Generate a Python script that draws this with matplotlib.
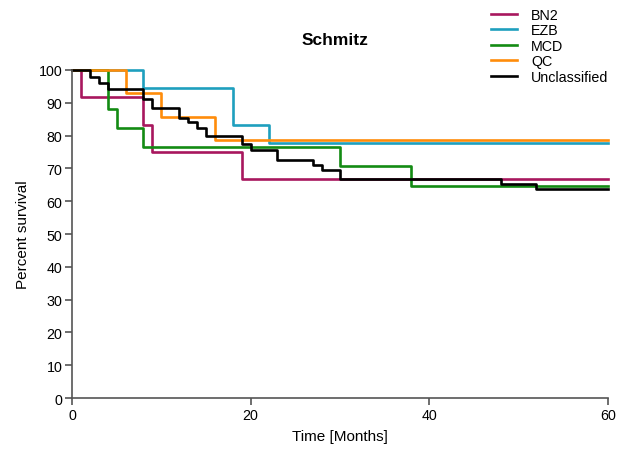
import matplotlib
matplotlib.use("Agg")
import matplotlib.pyplot as plt

plt.rcParams['font.family'] = ['Liberation Sans', 'DejaVu Sans']

title = "Schmitz"
series_names = ["BN2", "EZB", "MCD", "QC", "Unclassified"]
colors = ["#A8175E", "#1E9FBE", "#138B13", "#FF8C0A", "#000000"]

bn2_t = [0, 1, 8, 9, 19, 60]
bn2_s = [100, 91.67, 83.33, 75.0, 66.67, 66.67]

ezb_t = [0, 8, 18, 22, 60]
ezb_s = [100, 94.44, 83.33, 77.78, 77.78]

mcd_t = [0, 4, 5, 8, 30, 38, 60]
mcd_s = [100, 88.24, 82.35, 76.47, 70.59, 64.71, 64.71]

qc_t = [0, 6, 10, 16, 60]
qc_s = [100, 92.86, 85.71, 78.57, 78.57]

unc_t = [0, 2, 3, 4, 8, 9, 12, 13, 14, 15, 19, 20, 23, 27, 28, 30, 48, 52, 60]
unc_s = [100, 98.0, 96.0, 94.1, 91.2, 88.5, 85.5, 84.1, 82.4, 79.8, 77.3, 75.6,
         72.7, 71.1, 69.6, 66.8, 65.4, 63.8, 63.8]

times = [bn2_t, ezb_t, mcd_t, qc_t, unc_t]
survs = [bn2_s, ezb_s, mcd_s, qc_s, unc_s]

fig = plt.figure(figsize=(6.29, 4.52), dpi=100)
ax = fig.add_axes([0.1145, 0.117, 0.852, 0.726])

for t, s, name, c in zip(times, survs, series_names, colors):
    ax.step(t, s, where='post', color=c, lw=1.9, label=name, clip_on=False)

ax.set_xlim(0, 60)
ax.set_ylim(0, 100)
ax.set_xticks([0, 20, 40, 60])
ax.set_yticks(range(0, 101, 10))
for sp in ['top', 'right']:
    ax.spines[sp].set_visible(False)
for sp in ['left', 'bottom']:
    ax.spines[sp].set_color('#555555')
    ax.spines[sp].set_linewidth(1.2)
ax.tick_params(axis='both', direction='out', length=5, width=1.2, color='#555555',
               labelsize=10.3, pad=2)
ax.set_xlabel("Time [Months]", fontsize=11, labelpad=5)
ax.set_ylabel("Percent survival", fontsize=11, labelpad=6)
fig.text(0.533, 0.91, title, ha='center', va='center', fontsize=12.5, fontweight='bold')

leg = fig.legend(loc='upper left', bbox_to_anchor=(0.769, 0.996), frameon=False,
                 fontsize=10.3, handlelength=1.8, labelspacing=0.1, handletextpad=1.0,
                 borderaxespad=0.1)

fig.savefig("out.png", dpi=100)
